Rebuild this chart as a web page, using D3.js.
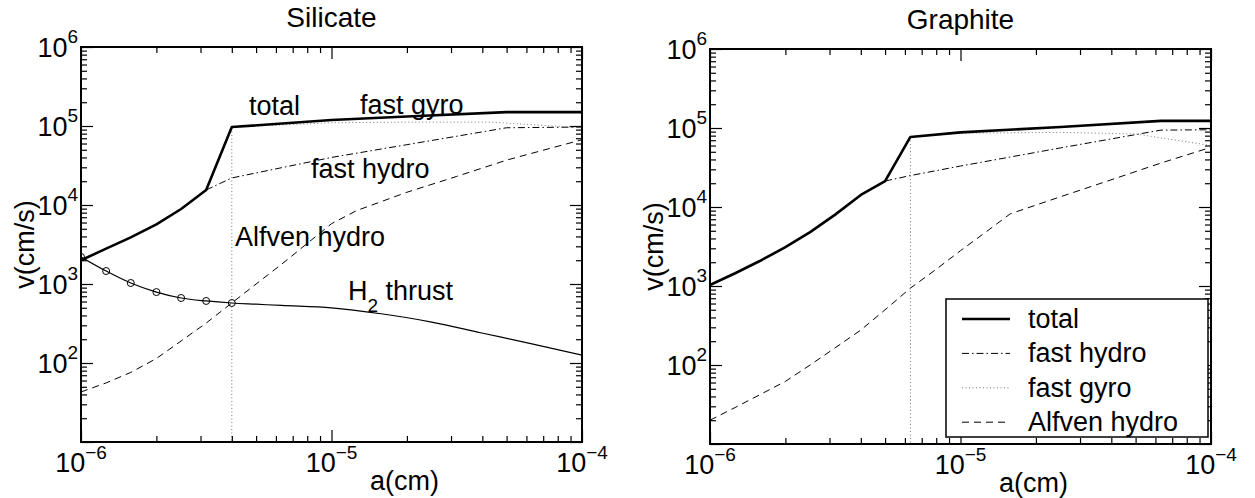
<!DOCTYPE html>
<html>
<head>
<meta charset="utf-8">
<script src="https://cdn.jsdelivr.net/npm/d3@7"></script>
<style>
body{margin:0;background:#fff;}
svg text{font-family:"Liberation Sans",Arial,Helvetica,sans-serif;fill:#000;}
</style>
</head>
<body>
<script>
// values, pairs of [a (cm), v (cm/s)]

// Silicate
var silTotal = [[1e-6,2000],[1.26e-6,2800],[1.58e-6,3900],[2e-6,5700],[2.51e-6,8900],[3.16e-6,15500],
                [4e-6,97000],[1e-5,119000],[2e-5,132000],[5e-5,150000],[1e-4,150000]];
var silFastHydro = [[3.16e-6,15500],[4e-6,22000],[1e-5,40000],[2e-5,58000],[5e-5,95000],[1e-4,97000]];
var silFastGyro = [[4e-6,1],[4e-6,97000],[1e-5,110000],[2e-5,112000],[4.3e-5,112000],[1e-4,95000]];
var silAlfven = [[1e-6,43],[1.26e-6,56],[1.58e-6,76],[2e-6,114],[2.51e-6,190],[3.16e-6,320],[4e-6,575],
                 [5e-6,1000],[6.31e-6,1770],[1e-5,5800],[1.26e-5,8500],[2e-5,14500],[3.16e-5,23000],
                 [5e-5,37000],[1e-4,67000]];
var silH2 = [[1e-6,2200],[1.26e-6,1460],[1.58e-6,1030],[2e-6,790],[2.51e-6,665],[3.16e-6,610],[4e-6,575],
             [5e-6,555],[6.31e-6,535],[1e-5,500],[1.58e-5,420],[2.51e-5,330],[3.98e-5,240],[6.31e-5,175],[1e-4,126]];
var silH2Marked = 7; // the first points of the H2 curve carry circles

// Graphite
var graTotal = [[1e-6,1030],[1.26e-6,1450],[1.58e-6,2070],[2e-6,3100],[2.51e-6,4800],[3.16e-6,8000],
                [4e-6,14200],[5e-6,21300],[6.31e-6,77000],[1e-5,88000],[2.51e-5,103000],[6.31e-5,123000],[1e-4,123000]];
var graFastHydro = [[5e-6,21300],[6.31e-6,25000],[1e-5,33000],[2.51e-5,56000],[6.31e-5,94000],[1e-4,95000]];
var graFastGyro = [[6.31e-6,1],[6.31e-6,77000],[1e-5,86000],[2.51e-5,88000],[5e-5,84000],[1e-4,60000]];
var graAlfven = [[1e-6,20],[1.26e-6,29],[1.58e-6,42],[2e-6,62],[2.51e-6,100],[3.16e-6,165],[4e-6,277],
                 [5e-6,500],[6.31e-6,940],[7.94e-6,1600],[1e-5,2800],[1.26e-5,4800],[1.58e-5,8200],
                 [2.51e-5,13500],[3.98e-5,22000],[6.31e-5,36000],[1e-4,57000]];

// axes
var xDomain = [1e-6, 1e-4];
var yDomain = [1e1, 1e6];
var xMajor = [1e-6, 1e-5, 1e-4];
var yMajor = [1e1, 1e2, 1e3, 1e4, 1e5, 1e6];
var xTickExp = [-6, -5, -4];
var yTickExp = [2, 3, 4, 5, 6];

var legendNames = ["total", "fast hydro", "fast gyro", "Alfven hydro"];

(function(){

    var width = 1255, height = 498;
    var pw = 501, ph = 395; // plot frame size

    var svg = d3.select("body").append("svg")
        .attr("width", width)
        .attr("height", height);

    var styles = {
        total:  {w: 2.6, dash: null, color: "#000"},
        hydro:  {w: 1, dash: "7,3,1.5,3", color: "#000"},
        gyro:   {w: 1, dash: "1,2.5", color: "#777"},
        alfven: {w: 1, dash: "7,5", color: "#000"},
        h2:     {w: 1.2, dash: null, color: "#000", smooth: true}
    };

    var panels = [
        {id: "sil", title: "Silicate", left: 81, top: 47,
         series: [["alfven", silAlfven], ["h2", silH2], ["hydro", silFastHydro], ["gyro", silFastGyro], ["total", silTotal]]},
        {id: "gra", title: "Graphite", left: 710, top: 49,
         series: [["alfven", graAlfven], ["hydro", graFastHydro], ["gyro", graFastGyro], ["total", graTotal]]}
    ];

    //minor ticks between the decades
    function minors(majors){
        var out = [];
        for (var i = 0; i < majors.length - 1; i++){
            for (var m = 2; m <= 9; m++) out.push(majors[i] * m);
        }
        return out;
    }

    panels.forEach(function(p){
        var g = svg.append("g").attr("transform", "translate(" + p.left + "," + p.top + ")");

        var x = d3.scaleLog().domain(xDomain).range([0, pw]);
        var y = d3.scaleLog().domain(yDomain).range([ph, 0]);

        g.append("clipPath").attr("id", "clip-" + p.id)
            .append("rect").attr("width", pw).attr("height", ph);

        var line = d3.line()
            .x(function(d){ return x(d[0]); })
            .y(function(d){ return y(d[1]); });
        var smoothLine = d3.line()
            .x(function(d){ return x(d[0]); })
            .y(function(d){ return y(d[1]); })
            .curve(d3.curveMonotoneX);

        var plot = g.append("g").attr("clip-path", "url(#clip-" + p.id + ")");

        p.series.forEach(function(s){
            var st = styles[s[0]];
            plot.append("path")
                .datum(s[1])
                .attr("d", st.smooth ? smoothLine : line)
                .attr("fill", "none")
                .attr("stroke", st.color)
                .attr("stroke-width", st.w)
                .attr("stroke-dasharray", st.dash)
                .attr("stroke-linejoin", "round");
        });

        if (p.id == "sil"){
            plot.selectAll(".h2dot")
                .data(silH2.slice(0, silH2Marked))
                .enter()
                .append("circle")
                .attr("class", "h2dot")
                .attr("cx", function(d){ return x(d[0]); })
                .attr("cy", function(d){ return y(d[1]); })
                .attr("r", 3.5)
                .attr("fill", "none")
                .attr("stroke", "#000")
                .attr("stroke-width", 1);
        }

        //ticks on all four sides, pointing inward
        var axes = [
            [d3.axisBottom(x), "translate(0," + ph + ")", xMajor, minors(xMajor)],
            [d3.axisTop(x), "translate(0,0)", xMajor, minors(xMajor)],
            [d3.axisLeft(y), "translate(0,0)", yMajor, minors(yMajor)],
            [d3.axisRight(y), "translate(" + pw + ",0)", yMajor, minors(yMajor)]
        ];
        axes.forEach(function(a){
            [[a[2], 12], [a[3], 6]].forEach(function(t){
                var ax = g.append("g").attr("transform", a[1])
                    .call(a[0].tickValues(t[0]).tickSize(-t[1]).tickFormat(""));
                ax.select(".domain").remove();
                ax.selectAll("line").attr("stroke", "#000").attr("stroke-width", 1.2);
            });
        });

        g.append("rect")
            .attr("width", pw).attr("height", ph)
            .attr("fill", "none").attr("stroke", "#000").attr("stroke-width", 2);

        //tick labels
        xMajor.forEach(function(v, i){
            var t = g.append("text")
                .attr("x", x(v)).attr("y", ph + 30)
                .attr("text-anchor", "middle")
                .style("font-size", "27px");
            t.append("tspan").text("10");
            t.append("tspan").attr("dy", "-13").style("font-size", "19px")
                .text("\u2212" + Math.abs(xTickExp[i]));
        });
        yTickExp.forEach(function(e){
            var t = g.append("text")
                .attr("x", -3).attr("y", y(Math.pow(10, e)) + 10)
                .attr("text-anchor", "end")
                .style("font-size", "27px");
            t.append("tspan").text("10");
            t.append("tspan").attr("dy", "-14").style("font-size", "19px").text(e);
        });

        g.append("text")
            .attr("x", pw / 2).attr("y", -20)
            .attr("text-anchor", "middle")
            .style("font-size", "28px")
            .text(p.title);

        g.append("text")
            .attr("transform", "translate(-47," + (ph / 2) + ") rotate(-90)")
            .attr("text-anchor", "middle")
            .style("font-size", "27px")
            .text("v(cm/s)");

        g.append("text")
            .attr("x", 289).attr("y", ph + 48)
            .style("font-size", "27px")
            .text("a(cm)");

        p.g = g;
    });

    //curve labels on the silicate panel
    var sg = panels[0].g;
    var notes = [["total", 168, 68], ["fast gyro", 279, 67], ["fast hydro", 230, 131], ["Alfven hydro", 154, 199]];
    notes.forEach(function(n){
        sg.append("text").attr("x", n[1]).attr("y", n[2])
            .style("font-size", "27px").text(n[0]);
    });
    var h2 = sg.append("text").attr("x", 267).attr("y", 253).style("font-size", "27px");
    h2.append("tspan").text("H");
    h2.append("tspan").attr("dy", 12).style("font-size", "19px").text("2");
    h2.append("tspan").attr("dy", -12).text(" thrust");

    //legend on the graphite panel
    var lg = panels[1].g.append("g");
    lg.append("rect")
        .attr("x", 236).attr("y", 250).attr("width", 262).attr("height", 138)
        .attr("fill", "#fff").attr("stroke", "#000").attr("stroke-width", 1.5);
    var keys = ["total", "hydro", "gyro", "alfven"];
    legendNames.forEach(function(name, i){
        var st = styles[keys[i]];
        var cy = 270 + i * 34.4;
        lg.append("line")
            .attr("x1", 252).attr("x2", 300).attr("y1", cy).attr("y2", cy)
            .attr("stroke", st.color).attr("stroke-width", st.w)
            .attr("stroke-dasharray", st.dash);
        lg.append("text").attr("x", 318).attr("y", cy + 9)
            .style("font-size", "27px").text(name);
    });

})();
</script>
</body>
</html>
